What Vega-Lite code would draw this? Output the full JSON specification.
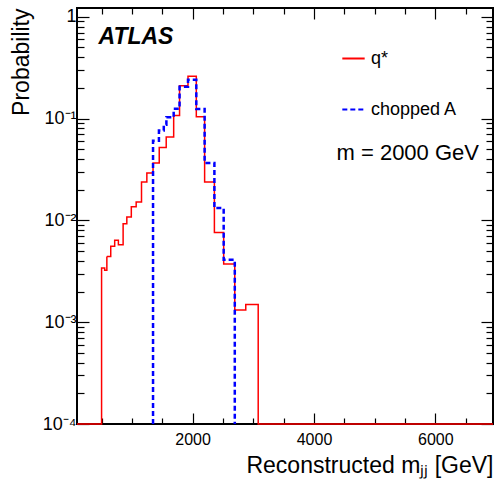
{
  "$schema": "https://vega.github.io/schema/vega-lite/v6.json",
  "width": 416,
  "height": 416,
  "autosize": {"type": "none"},
  "padding": {"left": 77, "top": 8, "right": 4, "bottom": 67},
  "config": {
    "font": "Liberation Sans",
    "view": {"stroke": "black", "strokeWidth": 2},
    "axis": {"domain": false, "grid": false, "tickColor": "black", "tickWidth": 1.2, "labelColor": "black", "titleColor": "black", "labelFont": "Liberation Sans", "titleFont": "Liberation Sans", "titleFontWeight": "normal"}
  },
  "datasets": {
    "red": [
      {"ord": 0, "mass": 95, "prob": 0.0001, "series": "q*"},
      {"ord": 1, "mass": 500, "prob": 0.0034, "series": "q*"},
      {"ord": 2, "mass": 551, "prob": 0.00323, "series": "q*"},
      {"ord": 3, "mass": 587, "prob": 0.00443, "series": "q*"},
      {"ord": 4, "mass": 651, "prob": 0.00556, "series": "q*"},
      {"ord": 5, "mass": 716, "prob": 0.00637, "series": "q*"},
      {"ord": 6, "mass": 777, "prob": 0.00577, "series": "q*"},
      {"ord": 7, "mass": 855, "prob": 0.00929, "series": "q*"},
      {"ord": 8, "mass": 916, "prob": 0.0108, "series": "q*"},
      {"ord": 9, "mass": 990, "prob": 0.0136, "series": "q*"},
      {"ord": 10, "mass": 1070, "prob": 0.0152, "series": "q*"},
      {"ord": 11, "mass": 1158, "prob": 0.0238, "series": "q*"},
      {"ord": 12, "mass": 1246, "prob": 0.0292, "series": "q*"},
      {"ord": 13, "mass": 1348, "prob": 0.0366, "series": "q*"},
      {"ord": 14, "mass": 1450, "prob": 0.0521, "series": "q*"},
      {"ord": 15, "mass": 1565, "prob": 0.0659, "series": "q*"},
      {"ord": 16, "mass": 1688, "prob": 0.107, "series": "q*"},
      {"ord": 17, "mass": 1785, "prob": 0.21, "series": "q*"},
      {"ord": 18, "mass": 1924, "prob": 0.26, "series": "q*"},
      {"ord": 19, "mass": 2061, "prob": 0.104, "series": "q*"},
      {"ord": 20, "mass": 2198, "prob": 0.0238, "series": "q*"},
      {"ord": 21, "mass": 2359, "prob": 0.00762, "series": "q*"},
      {"ord": 22, "mass": 2512, "prob": 0.00373, "series": "q*"},
      {"ord": 23, "mass": 2695, "prob": 0.00132, "series": "q*"},
      {"ord": 24, "mass": 2876, "prob": 0.00149, "series": "q*"},
      {"ord": 25, "mass": 3081, "prob": 0.0001, "series": "q*"},
      {"ord": 26, "mass": 6950, "prob": 0.0001, "series": "q*"}
    ],
    "blue": [
      {"ord": 0, "mass": 1348, "prob": 0.0001, "series": "chopped A"},
      {"ord": 1, "mass": 1348, "prob": 0.0607, "series": "chopped A"},
      {"ord": 2, "mass": 1445, "prob": 0.0766, "series": "chopped A"},
      {"ord": 3, "mass": 1525, "prob": 0.087, "series": "chopped A"},
      {"ord": 4, "mass": 1568, "prob": 0.103, "series": "chopped A"},
      {"ord": 5, "mass": 1688, "prob": 0.125, "series": "chopped A"},
      {"ord": 6, "mass": 1785, "prob": 0.205, "series": "chopped A"},
      {"ord": 7, "mass": 1924, "prob": 0.241, "series": "chopped A"},
      {"ord": 8, "mass": 2061, "prob": 0.124, "series": "chopped A"},
      {"ord": 9, "mass": 2198, "prob": 0.0366, "series": "chopped A"},
      {"ord": 10, "mass": 2359, "prob": 0.0132, "series": "chopped A"},
      {"ord": 11, "mass": 2512, "prob": 0.0041, "series": "chopped A"},
      {"ord": 12, "mass": 2695, "prob": 0.0001, "series": "chopped A"}
    ],
    "atlas": [{"mass": 449, "prob": 0.544, "label": "ATLAS"}],
    "mass_label": [{"mass": 4371, "prob": 0.0395, "label": "m = 2000 GeV"}]
  },
  "resolve": {"axis": {"x": "independent", "y": "independent"}},
  "layer": [
    {
      "data": {"name": "red"},
      "mark": {"type": "line", "interpolate": "step-after", "strokeWidth": 1.5},
      "encoding": {
        "x": {
          "field": "mass", "type": "quantitative",
          "scale": {"type": "linear", "domain": [95, 6950], "nice": false, "zero": false},
          "axis": {
            "orient": "bottom",
            "values": [500, 1000, 1500, 2000, 2500, 3000, 3500, 4000, 4500, 5000, 5500, 6000, 6500],
            "tickSize": {"condition": {"test": "datum.value % 2000 == 0", "value": -11}, "value": -6},
            "labelExpr": "datum.value % 2000 == 0 ? format(datum.value, 'd') : ''",
            "labelFontSize": 16,
            "labelPadding": 18,
            "title": "Reconstructed mⱼⱼ [GeV]",
            "titleAnchor": "end",
            "titleFontSize": 23,
            "titlePadding": 7
          }
        },
        "y": {
          "field": "prob", "type": "quantitative",
          "scale": {"type": "log", "domain": [0.0001, 1.22], "nice": false},
          "axis": {
            "orient": "left",
            "values": [0.0001,0.0002,0.0003,0.0004,0.0005,0.0006,0.0007,0.0008,0.0009,0.001,0.002,0.003,0.004,0.005,0.006,0.007,0.008,0.009,0.01,0.02,0.03,0.04,0.05,0.06,0.07,0.08,0.09,0.1,0.2,0.3,0.4,0.5,0.6,0.7,0.8,0.9,1],
            "tickSize": {"condition": {"test": "abs(log(datum.value)/LN10 - round(log(datum.value)/LN10)) < 0.001", "value": -12}, "value": -7},
            "labelExpr": "abs(datum.value-1)<1e-9 ? '1' : abs(datum.value-0.1)<1e-12 ? '10⁻¹' : abs(datum.value-0.01)<1e-12 ? '10⁻²' : abs(datum.value-0.001)<1e-12 ? '10⁻³' : abs(datum.value-0.0001)<1e-12 ? '10⁻⁴' : ''",
            "labelFontSize": 18,
            "labelPadding": 13,
            "title": "Probability",
            "titleAnchor": "end",
            "titleFontSize": 23,
            "titlePadding": 9
          }
        },
        "order": {"field": "ord", "type": "quantitative"},
        "color": {
          "field": "series", "type": "nominal",
          "scale": {"domain": ["q*", "chopped A"], "range": ["#ff0000", "#0000ff"]},
          "legend": {"orient": "none", "legendX": 264, "legendY": 38, "title": null, "padding": 0, "symbolType": "stroke", "symbolSize": 500, "symbolStrokeWidth": 2, "labelFontSize": 18, "labelOffset": 5, "rowPadding": 29, "labelColor": "black"}
        },
        "strokeDash": {
          "field": "series", "type": "nominal",
          "scale": {"domain": ["q*", "chopped A"], "range": [[1, 0], [5, 3]]},
          "legend": {"orient": "none", "legendX": 264, "legendY": 38, "title": null, "padding": 0, "symbolType": "stroke", "symbolSize": 500, "symbolStrokeWidth": 2, "labelFontSize": 18, "labelOffset": 5, "rowPadding": 29, "labelColor": "black"}
        }
      }
    },
    {
      "data": {"name": "blue"},
      "mark": {"type": "line", "interpolate": "step-after", "strokeWidth": 2.5},
      "encoding": {
        "x": {
          "field": "mass", "type": "quantitative",
          "scale": {"type": "linear", "domain": [95, 6950], "nice": false, "zero": false},
          "axis": {
            "orient": "top",
            "values": [500, 1000, 1500, 2000, 2500, 3000, 3500, 4000, 4500, 5000, 5500, 6000, 6500],
            "tickSize": {"condition": {"test": "datum.value % 2000 == 0", "value": -11}, "value": -6},
            "labels": false,
            "title": null
          }
        },
        "y": {
          "field": "prob", "type": "quantitative",
          "scale": {"type": "log", "domain": [0.0001, 1.22], "nice": false},
          "axis": {
            "orient": "right",
            "values": [0.0001,0.0002,0.0003,0.0004,0.0005,0.0006,0.0007,0.0008,0.0009,0.001,0.002,0.003,0.004,0.005,0.006,0.007,0.008,0.009,0.01,0.02,0.03,0.04,0.05,0.06,0.07,0.08,0.09,0.1,0.2,0.3,0.4,0.5,0.6,0.7,0.8,0.9,1],
            "tickSize": {"condition": {"test": "abs(log(datum.value)/LN10 - round(log(datum.value)/LN10)) < 0.001", "value": -12}, "value": -7},
            "labels": false,
            "title": null
          }
        },
        "order": {"field": "ord", "type": "quantitative"},
        "color": {"field": "series", "type": "nominal", "scale": {"domain": ["q*", "chopped A"], "range": ["#ff0000", "#0000ff"]},
          "legend": {"orient": "none", "legendX": 264, "legendY": 38, "title": null, "padding": 0, "symbolType": "stroke", "symbolSize": 500, "symbolStrokeWidth": 2, "labelFontSize": 18, "labelOffset": 5, "rowPadding": 29, "labelColor": "black"}},
        "strokeDash": {"field": "series", "type": "nominal", "scale": {"domain": ["q*", "chopped A"], "range": [[1, 0], [5, 3]]},
          "legend": {"orient": "none", "legendX": 264, "legendY": 38, "title": null, "padding": 0, "symbolType": "stroke", "symbolSize": 500, "symbolStrokeWidth": 2, "labelFontSize": 18, "labelOffset": 5, "rowPadding": 29, "labelColor": "black"}}
      }
    },
    {
      "data": {"name": "atlas"},
      "mark": {"type": "text", "align": "left", "baseline": "alphabetic", "fontSize": 23, "fontWeight": "bold", "fontStyle": "italic", "color": "black"},
      "encoding": {
        "x": {"field": "mass", "type": "quantitative", "axis": null},
        "y": {"field": "prob", "type": "quantitative", "axis": null},
        "text": {"field": "label"}
      }
    },
    {
      "data": {"name": "mass_label"},
      "mark": {"type": "text", "align": "left", "baseline": "alphabetic", "fontSize": 22, "color": "black"},
      "encoding": {
        "x": {"field": "mass", "type": "quantitative", "axis": null},
        "y": {"field": "prob", "type": "quantitative", "axis": null},
        "text": {"field": "label"}
      }
    }
  ]
}
